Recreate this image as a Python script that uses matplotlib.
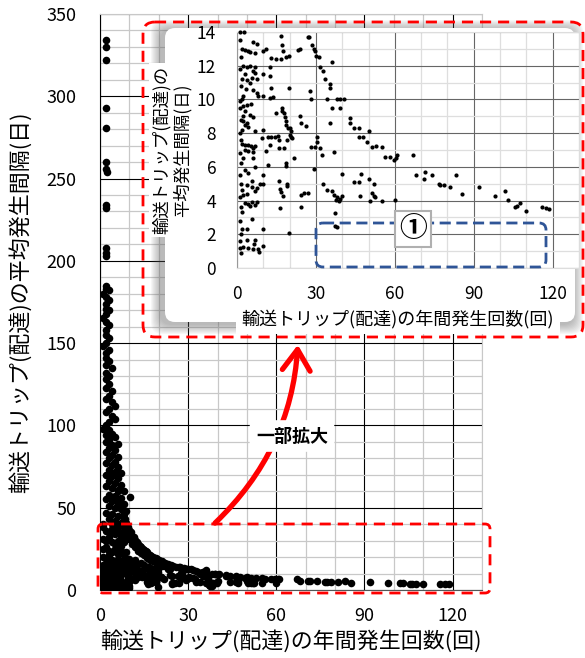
import matplotlib
matplotlib.use("Agg")
import matplotlib.pyplot as plt
import numpy as np
from matplotlib.patches import FancyBboxPatch, FancyArrowPatch
from matplotlib.ticker import MultipleLocator
from matplotlib.transforms import Affine2D

plt.rcParams["font.family"] = ["Noto Sans CJK JP", "DejaVu Sans"]

W, H = 585, 658

X_LABEL = "輸送トリップ(配達)の年間発生回数(回)"
Y_LABEL = "輸送トリップ(配達)の平均発生間隔(日)"
INSET_Y_LABEL = "輸送トリップ(配達)の\n平均発生間隔(日)"
ZOOM_NOTE = "一部拡大"
AREA_MARK = "①"

X_TICKS = [0, 30, 60, 90, 120]
Y_TICKS_MAIN = [0, 50, 100, 150, 200, 250, 300, 350]
Y_TICKS_INSET = [0, 2, 4, 6, 8, 10, 12, 14]

# (annual trips, mean interval in days), points with interval <= 14
low_points = [
    (117.5, 3.55), (118.7, 3.5), (115.8, 3.6), (110, 3.4), (107.6, 3.85), (106.3, 3.7),
    (105.5, 3.6), (103, 4.05), (102, 4.55), (98, 4.25), (92, 4.8), (85.4, 4.4),
    (83.3, 5.5), (81, 4.8), (78.5, 4.95), (77.2, 4.95), (76.6, 5.0), (74, 5.5),
    (70.9, 5.3), (71.5, 5.7), (68, 5.5), (67, 6.7), (60, 4.05), (60.8, 6.7),
    (60.5, 6.55), (59.5, 6.4), (58.2, 6.6), (56.3, 6.6), (55, 7.2), (53, 7.25),
    (51.3, 7.15), (50, 8.1), (49.4, 7.5), (47.8, 7.8), (46.2, 7.8), (46.2, 8.3),
    (44.3, 8.3), (43, 8.9), (42.8, 8.6), (40.5, 10), (39, 10), (39.2, 9.5),
    (38, 10), (36.3, 9.5), (35.2, 8.6), (34.2, 10), (35.2, 10.7), (35.2, 10.9),
    (33.5, 11.2), (32.7, 11.7), (31.6, 11.9), (36, 12.2), (31, 12.5), (30.1, 12.6),
    (29.7, 12.85), (29.1, 13), (28.5, 13.2), (27.2, 13.7), (30.4, 7.8), (30.4, 7.5),
    (31.6, 7.1), (32.3, 6.7), (36.7, 6.9), (29.1, 5.9), (32.7, 5.0), (34.2, 4.6),
    (36, 4.55), (36.7, 4.35), (38, 4.2), (38.6, 4.0), (39.2, 4.1), (39.8, 4.3),
    (37.7, 4.05), (37.1, 3.26), (37.3, 2.47), (38.2, 2.43), (40.1, 5.6), (44.3, 5.1),
    (46.2, 5.1), (47.1, 5.6), (50, 5.3), (51.9, 5.0), (51.5, 4.45), (52, 4.3),
    (52.5, 4.2), (46.8, 4.25), (50.4, 3.95), (55, 3.95),
    (1, 14), (2.5, 14), (16.7, 13.75), (26.8, 13.7), (6, 13.4), (7.5, 13.3),
    (1.8, 13), (3, 12.95), (4.3, 12.9), (5, 12.8), (6.8, 12.75), (10, 12.9),
    (11.2, 13), (17, 13.2), (17.6, 12.9), (13, 12.45), (14.8, 12.4), (16.7, 12.4),
    (18.5, 12.5), (19.8, 12.55), (23.3, 12.95), (23.9, 13.0), (2.3, 12.0), (3.7, 11.95),
    (5, 12.0), (6.8, 11.9), (12.4, 11.95), (6.2, 11.7), (6.8, 11.55), (3, 11.5),
    (1.8, 11.2), (3.7, 11.15), (5.6, 11.3), (7.5, 11.2), (5, 11.0), (10, 11.5),
    (12.4, 11.4), (19.8, 10.7), (13, 10.7), (3.5, 10.6), (6.2, 10.55), (7.5, 10.4),
    (2.4, 10.2), (8.1, 10.2), (10, 10.2), (13.8, 10.15), (12.4, 10.1), (27.7, 10.5),
    (28, 10.0), (1.8, 10.0), (1.2, 9.9), (3.9, 9.65), (5.2, 9.7), (2.4, 9.6),
    (3, 9.3), (17, 9.5), (17, 9.3), (2.4, 9.0), (5, 9.1), (6.2, 8.95),
    (18, 9.2), (18.2, 8.95), (18.6, 8.75), (18.8, 8.5), (19.4, 8.3), (15, 9.2),
    (23.9, 9.0), (2.4, 8.7), (3.7, 8.6), (3.0, 8.5), (24.5, 8.6), (26.4, 8.4),
    (20, 8.3), (20.5, 8.1), (1.8, 8.2), (4.3, 8.35), (6.8, 8.1), (10, 8.2),
    (20, 7.9), (20.6, 7.8), (15.6, 7.85), (1.8, 7.35), (3.0, 7.3), (4.3, 7.3),
    (5.5, 7.25), (6.8, 7.25), (9.4, 7.7), (11.8, 7.8), (13, 7.75), (14.3, 7.8),
    (12.4, 7.3), (15.9, 7.6), (19, 7.6), (20.8, 7.7), (3, 7.0), (4.3, 6.95),
    (6.2, 6.9), (6.2, 7.1), (11.2, 6.95), (16, 7.1), (18, 7.1), (21.8, 6.5),
    (28, 7.2), (29.6, 7.15), (2.4, 6.5), (6.2, 6.5), (11.9, 6.1), (6.8, 6.0),
    (3, 5.8), (4.3, 5.65), (10, 5.5), (18.5, 6.25), (18.5, 6.05), (5.6, 5.15),
    (16, 5.15), (19, 5.0), (19, 4.85), (3.7, 4.9), (5.6, 4.8), (7.5, 4.75),
    (10, 5.0), (8.7, 5.0), (1.8, 4.6), (6.8, 4.55), (16.5, 4.7), (16.8, 4.5),
    (2.4, 4.35), (3.7, 4.4), (25.6, 4.45), (26.9, 4.45), (24.5, 4.35), (17.5, 4.25),
    (3, 3.85), (4.3, 3.8), (5.6, 3.9), (6.8, 3.75), (7.5, 3.9), (5, 3.65),
    (1.8, 3.3), (16.3, 3.55), (24.5, 3.6), (5.6, 2.9), (1.8, 2.3), (3.7, 2.3),
    (10, 2.3), (19.9, 2.05), (3.7, 1.65), (6.8, 1.65), (2.4, 1.25), (4.3, 1.2),
    (6.2, 1.1), (8.1, 1.15), (10, 1.3), (1.1, 1.2), (6.5, 1.4), (8.3, 0.95),
    (1.2, 13.5), (1.5, 12.5), (1.2, 11.8), (1.5, 10.8), (1.2, 9.5), (1.5, 8.8),
    (1.2, 8.0), (1.5, 7.6), (1.2, 6.8), (1.5, 6.2), (1.2, 5.5), (1.5, 5.0),
    (1.2, 4.2), (1.5, 3.6), (1.2, 2.8), (1.5, 2.0), (1.2, 1.6), (1.5, 0.9),
]

# points with interval > 14 (only visible in the full-range chart)
high_points = [
    (2, 334), (2, 330), (2, 322), (2, 293), (2, 281), (2, 260), (2, 256), (2.3, 254),
    (2, 234), (2, 232), (2, 208), (2, 205), (2, 203),
    (2, 185), (2, 183), (3, 182), (1, 180), (2, 178), (3, 176), (2, 174), (2, 171),
    (3, 170), (2, 168), (1, 165), (2, 163), (3, 161), (2, 158), (2, 155), (3, 153),
    (2, 150), (1, 148), (3, 146), (2, 144), (2, 141), (3, 139), (2, 137), (4, 135),
    (2, 132), (3, 130), (2, 128), (3, 125), (2, 123), (4, 121), (3, 118), (2, 116),
    (4, 114), (5, 112), (3, 110), (2, 108), (4, 106), (5, 104), (3, 102), (2, 100),
    (1, 98), (3, 97), (4, 95), (2, 94), (5, 93), (3, 91), (2, 90), (6, 89),
    (4, 88), (3, 86), (5, 85), (2, 84), (4, 82), (6, 81), (3, 80), (5, 78),
    (2, 77), (4, 76), (6, 75), (3, 73), (5, 72), (7, 71), (2, 70), (4, 69),
    (6, 68), (3, 66), (5, 65), (7, 64), (2, 63), (4, 62), (6, 61), (8, 60),
    (3, 58), (5, 57), (10.2, 56.8), (7, 56), (2, 55), (4, 54), (6, 53), (8, 52),
    (3, 51), (5, 50), (7, 49), (9, 48), (2, 47), (4, 46), (6, 45), (8, 44),
    (3, 43), (5, 42), (7, 41), (9, 41), (1, 40), (4, 40), (6, 39), (8, 38),
    (6, 60), (6.5, 55), (7, 52), (7.5, 49), (8, 46), (8.5, 43), (9, 40), (9.5, 38),
    (10, 36.5), (10.5, 35), (11, 33), (11.5, 32), (12, 30.5), (12.5, 29), (13, 28),
    (13.5, 27), (14, 26), (14.5, 25), (15, 24.3), (15.5, 23.5), (16, 22.8), (16.5, 22),
    (17, 21.5), (17.5, 20.8), (18, 20.2), (18.5, 19.7), (19, 19.2), (19.5, 18.7),
    (20, 18.2), (21, 17.4), (22, 16.6), (23, 15.9), (24, 15.2), (25, 14.6), (26, 14.1),
    (8, 36), (9, 33), (10, 31), (11, 28), (12, 26), (13, 24), (14, 22.5), (15, 21),
    (16, 19.5), (17, 18.5), (18, 17.5), (19, 16.5), (20, 15.5), (21, 14.8), (22, 14.3),
    (1, 38), (2, 36), (3, 35), (4, 37), (5, 34), (6, 36), (7, 33), (1, 31),
    (2, 30), (3, 32), (4, 29), (5, 28), (6, 30), (7, 27), (8, 29), (1, 25),
    (2, 26), (3, 24), (4, 23), (5, 25), (6, 22), (7, 24), (8, 21), (9, 23),
    (1, 20), (2, 19), (3, 21), (4, 18), (5, 17), (6, 19), (7, 16), (8, 18),
    (9, 17), (10, 19), (11, 16), (12, 18), (13, 16), (1, 15), (2, 16), (3, 15),
    (4, 14.5), (5, 16), (6, 15), (8, 15), (10, 15.5), (12, 15), (14, 16.5), (15, 15),
]

low_x, low_y = np.array(low_points).T
high_x, high_y = np.array(high_points).T
all_x = np.concatenate([low_x, high_x])
all_y = np.concatenate([low_y, high_y])

fig = plt.figure(figsize=(W / 100, H / 100), dpi=100)
# pixel coordinates measured from the top-left corner of the image
px = Affine2D().scale(1 / W, -1 / H).translate(0, 1) + fig.transFigure


def fig_rect(left, top, right, bottom):
    return [left / W, 1 - bottom / H, (right - left) / W, (bottom - top) / H]


def style_grid(ax, major_color, minor_color):
    ax.grid(which="minor", color=minor_color, linewidth=0.9, zorder=0)
    ax.grid(which="major", color=major_color, linewidth=0.8, zorder=0)
    ax.set_axisbelow(True)
    ax.tick_params(which="both", length=0)


# --- main chart ---
ax = fig.add_axes(fig_rect(100, 14, 482, 590))
ax.scatter(all_x, all_y, s=30, color="black", linewidths=0, zorder=3)
ax.set_xlim(0, 130)
ax.set_ylim(0, 350)
ax.set_xticks(X_TICKS)
ax.set_yticks(Y_TICKS_MAIN)
ax.xaxis.set_minor_locator(MultipleLocator(10))
ax.yaxis.set_minor_locator(MultipleLocator(10))
style_grid(ax, "black", "#c8c8c8")
ax.tick_params(axis="y", labelsize=13, pad=17)
ax.tick_params(axis="x", labelsize=13, pad=12)
for side in ["top", "right"]:
    ax.spines[side].set_color("#c8c8c8")
ax.spines["left"].set_color("black")
ax.spines["bottom"].set_color("#555555")
ax.set_xlabel(X_LABEL, fontsize=15.8)
ax.set_ylabel(Y_LABEL, fontsize=15.8)
ax.xaxis.set_label_coords(0.5, -0.07)
ax.yaxis.set_label_coords(-0.178, 0.5)

# --- inset panel with soft shadow ---
for i in range(10):
    grow = 10 - i
    fig.add_artist(FancyBboxPatch(
        (163 - grow - 2, 28 - grow + 2), 412 + 2 * grow, 294 + 2 * grow,
        boxstyle="round,pad=0,rounding_size=12", transform=px,
        facecolor="#606060", edgecolor="none", alpha=0.05, zorder=3))
fig.add_artist(FancyBboxPatch(
    (165, 28), 410, 294, boxstyle="round,pad=0,rounding_size=10", transform=px,
    facecolor="white", edgecolor="none", zorder=4))

axi = fig.add_axes(fig_rect(237, 32, 579, 268), zorder=5)
axi.set_facecolor("white")
mask = low_y <= 14.05
axi.scatter(low_x[mask], low_y[mask], s=9, color="black", linewidths=0,
            zorder=3, clip_on=False)
axi.set_xlim(0, 130)
axi.set_ylim(0, 14)
axi.set_xticks(X_TICKS)
axi.set_yticks(Y_TICKS_INSET)
axi.xaxis.set_minor_locator(MultipleLocator(10))
axi.yaxis.set_minor_locator(MultipleLocator(1))
style_grid(axi, "#666666", "#dedede")
axi.tick_params(axis="y", labelsize=12.5, pad=15)
axi.tick_params(axis="x", labelsize=12.5, pad=12)
for side in axi.spines.values():
    side.set_color("#dddddd")
axi.spines["left"].set_color("#999999")
axi.set_xlabel(X_LABEL, fontsize=13,
               bbox=dict(facecolor="white", edgecolor="none", pad=4))
axi.xaxis.set_label_coords(0.47, -0.175)
axi.set_ylabel(INSET_Y_LABEL, fontsize=12.5, linespacing=1.15,
               bbox=dict(facecolor="white", edgecolor="none", pad=2))
axi.yaxis.set_label_coords(-0.133, 0.5)

# blue dashed area and its marker inside the inset
fig.add_artist(FancyBboxPatch(
    (316, 223), 230, 44, boxstyle="round,pad=0,rounding_size=7", transform=px,
    facecolor="none", edgecolor="#2f5597", linewidth=2, linestyle=(0, (4, 2)),
    zorder=7))
fig.text(413 / W, 1 - 229 / H, AREA_MARK, fontsize=20, fontweight="bold",
         ha="center", va="center", zorder=8,
         bbox=dict(boxstyle="square,pad=0.15", facecolor="white",
                   edgecolor="#b0b0b0", linewidth=1.5))

# red dashed frames
fig.add_artist(FancyBboxPatch(
    (143, 22), 440, 315, boxstyle="round,pad=0,rounding_size=12", transform=px,
    facecolor="none", edgecolor="red", linewidth=2, linestyle=(0, (4, 2.5)),
    zorder=8))
fig.add_artist(FancyBboxPatch(
    (98, 524), 392, 69, boxstyle="round,pad=0,rounding_size=5", transform=px,
    facecolor="none", edgecolor="red", linewidth=2, linestyle=(0, (4, 2.5)),
    zorder=8))

# curved arrow from the zoomed area to the inset
fig.add_artist(FancyArrowPatch(
    (213, 525), (298, 342), transform=px, connectionstyle="arc3,rad=0.2",
    arrowstyle="->,head_length=0.75,head_width=0.5", mutation_scale=20,
    color="red", linewidth=3.8, zorder=8))
fig.text(292 / W, 1 - 436 / H, ZOOM_NOTE, fontsize=13, fontweight="bold",
         ha="center", va="center", zorder=9,
         bbox=dict(boxstyle="round,pad=0.35", facecolor="white", edgecolor="none"))

fig.savefig("out.png", dpi=100)
